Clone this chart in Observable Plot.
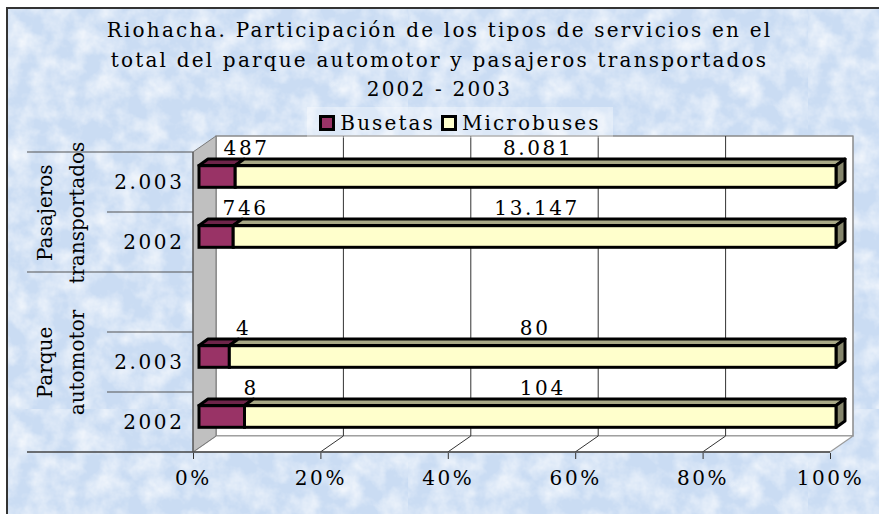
<!DOCTYPE html>
<html>
<head>
<meta charset="utf-8">
<script src="https://cdn.jsdelivr.net/npm/d3@7"></script>
<script src="https://cdn.jsdelivr.net/npm/@observablehq/plot@0.6"></script>
<style>
html, body { margin: 0; padding: 0; background: #fff; }
#chart { position: relative; width: 879px; height: 514px; overflow: hidden; font-family: "DejaVu Serif", serif; }
#bg { position: absolute; left: 6px; top: 7px; width: 900px; height: 530px; border: 2px solid #333;
  background-color: #cadcf3;
  background-image: url("data:image/svg+xml,%3Csvg xmlns='http://www.w3.org/2000/svg' width='400' height='400'%3E%3Cfilter id='n'%3E%3CfeTurbulence type='fractalNoise' baseFrequency='0.045' numOctaves='4' seed='3'/%3E%3CfeColorMatrix values='0 0 0 0 1 0 0 0 0 1 0 0 0 0 1 1.4 0 0 0 -0.5'/%3E%3C/filter%3E%3Crect width='400' height='400' filter='url(%23n)'/%3E%3C/svg%3E");
}
#plot { position: absolute; left: 0; top: 0; }
#title { position: absolute; left: 0; top: 16px; width: 879px; text-align: center; font-size: 20px; line-height: 29.5px; letter-spacing: 2.2px; color: #000; }
#legend { position: absolute; left: 307px; top: 107px; width: 306px; height: 31px; background: rgba(255,255,255,0.35);
  display: flex; align-items: center; justify-content: center; font-size: 20px; letter-spacing: 2.1px; color: #000; }
#legend .item { display: flex; align-items: center; margin: 0 3px; }
#legend .sw { width: 10px; height: 10px; border: 3px solid #000; margin-right: 5px; }
</style>
</head>
<body>
<div id="chart">
  <div id="bg"></div>
  <div id="plot"></div>
  <div id="title">Riohacha. Participación de los tipos de servicios en el<br>total del parque automotor y pasajeros transportados<br>2002 - 2003</div>
  <div id="legend"></div>
</div>
<script>
// ---- data ----
const groups = ["Pasajeros transportados", "Parque automotor"];
const rows = ["Pasajeros|2.003", "Pasajeros|2002", "Parque|", "Parque|2.003", "Parque|2002"];
const series = ["Busetas", "Microbuses"];
const busetas = [487, 746, null, 4, 8];
const microbuses = [8081, 13147, null, 80, 104];
const xTicks = [0, 0.2, 0.4, 0.6, 0.8, 1];
const colors = ["#993366", "#FFFFCC"];
const topColors = ["#6e2449", "#a8a886"];
const sideColor = "#86866c";

// ---- build table ----
const data = [];
rows.forEach((r, i) => {
  if (busetas[i] != null) {
    data.push({row: r, series: series[0], value: busetas[i]});
    data.push({row: r, series: series[1], value: microbuses[i]});
  }
});
const fmt = d3.formatLocale({decimal: ",", thousands: ".", grouping: [3], currency: ["$", ""]}).format(",d");

// ---- layout ----
const W = 879, H = 514, mTop = 151, mBottom = 61, mLeft = 193, mRight = 49;
const band = (H - mTop - mBottom) / rows.length;
const DX = 6, DY = -5.5, BAR_H = 22, TDX = 9, TDY = -6.5, WDX = 23, WDY = -16;
const inset = (band - BAR_H) / 2;

function bwOf(y) { return typeof y.bandwidth === "function" ? y.bandwidth() : y.bandwidth; }
function poly(g, pts, fill, stroke, sw) {
  g.append("polygon").attr("points", pts.map(p => p.join(",")).join(" "))
    .attr("fill", fill).attr("stroke", stroke).attr("stroke-width", sw).attr("stroke-linejoin", "round");
}
function line(g, x1, y1, x2, y2, stroke, sw) {
  g.append("line").attr("x1", x1).attr("y1", y1).attr("x2", x2).attr("y2", y2)
    .attr("stroke", stroke).attr("stroke-width", sw);
}

// walls, floor, gridlines and category lines
const walls = (index, scales) => {
  const {x, y} = scales;
  const b = bwOf(y);
  const X0 = x(0), X1 = x(1), Yt = y(rows[0]), Yb = y(rows[rows.length - 1]) + b;
  const g = d3.create("svg:g");
  poly(g, [[X0 + WDX, Yt + WDY], [X1 + WDX, Yt + WDY], [X1 + WDX, Yb + WDY], [X0 + WDX, Yb + WDY]], "#fff", "#8a8a8a", 1.5);
  poly(g, [[X0, Yb], [X1, Yb], [X1 + WDX, Yb + WDY], [X0 + WDX, Yb + WDY]], "#fff", "#9a9a9a", 1.2);
  poly(g, [[X0, Yt], [X0 + WDX, Yt + WDY], [X0 + WDX, Yb + WDY], [X0, Yb]], "#c0c0c0", "#7a7a7a", 1);
  xTicks.slice(1, -1).forEach(t => {
    line(g, x(t) + WDX, Yt + WDY, x(t) + WDX, Yb + WDY, "#333", 1);
    line(g, x(t), Yb, x(t) + WDX, Yb + WDY, "#333", 1);
  });
  line(g, 27, Yb, X1, Yb, "#444", 1.5);
  line(g, X0, Yt, X0, Yb, "#555", 1.2);
  line(g, 27, Yt, X0, Yt, "#555", 1.2);
  line(g, 27, y(rows[2]), X0, y(rows[2]), "#555", 1.2);
  [rows[1], rows[3], rows[4]].forEach(r => line(g, 107, y(r), X0, y(r), "#555", 1.2));
  return g.node();
};

// bar tops and right end faces
const tops = (index, scales) => {
  const {x, y} = scales;
  const b = bwOf(y);
  const g = d3.create("svg:g");
  rows.forEach((r, i) => {
    if (busetas[i] == null) return;
    const total = busetas[i] + microbuses[i];
    const cuts = [0, busetas[i] / total, 1];
    const yc = y(r) + b / 2 + DY;
    const yT = yc - BAR_H / 2, yB = yc + BAR_H / 2;
    for (let s = 0; s < 2; s++) {
      const a = x(cuts[s]) + DX, c = x(cuts[s + 1]) + DX;
      poly(g, [[a, yT], [c, yT], [c + TDX, yT + TDY], [a + TDX, yT + TDY]], topColors[s], "#000", 3);
    }
    const e = x(1) + DX;
    poly(g, [[e, yT], [e + TDX, yT + TDY], [e + TDX, yB + TDY], [e, yB]], sideColor, "#000", 3);
  });
  return g.node();
};

// group label lines (one text mark per line)
const groupWords = [];
const groupMarks = [];
groups.forEach((gname, gi) => {
  const words = gname.split(" ");
  const anchorRow = gi === 0 ? rows[0] : rows[3];
  const gdy = gi === 0 ? band / 2 : 0;
  words.forEach((w, wi) => {
    groupWords.push(w);
    groupMarks.push(Plot.text([{t: w, row: anchorRow}], {
      y: "row", text: "t", frameAnchor: "left", dx: wi === 0 ? -148 : -116, dy: gdy,
      rotate: -90, textAnchor: "middle"
    }));
  });
});

const chart = Plot.plot({
  width: W, height: H,
  marginTop: mTop, marginBottom: mBottom, marginLeft: mLeft, marginRight: mRight,
  style: "background: transparent; font-family: 'DejaVu Serif', serif; font-size: 20px; letter-spacing: 2.6px; color: #000; overflow: visible;",
  x: {domain: [0, 1]},
  y: {type: "band", domain: rows, padding: 0},
  color: {domain: series, range: colors},
  marks: [
    walls,
    Plot.axisX({ticks: xTicks, tickFormat: d3.format(".0%"), tickSize: 6, tickPadding: 11, label: null, stroke: "#333"}),
    Plot.axisY({tickFormat: d => d.split("|")[1], tickSize: 0, tickPadding: 9, label: null}),
    ...groupMarks,
    Plot.text(data, Plot.stackX({x: "value", y: "row", z: "series", offset: "normalize",
      text: d => d.series === series[0] ? fmt(d.value) : "", dx: 35, dy: -34})),
    Plot.text(data, Plot.stackX({x: "value", y: "row", z: "series", offset: "normalize",
      text: d => d.series === series[1] ? fmt(d.value) : "", dx: 8, dy: -34})),
    tops,
    Plot.barX(data, Plot.stackX({x: "value", y: "row", fill: "series", offset: "normalize",
      stroke: "#000", strokeWidth: 3, insetTop: inset, insetBottom: inset, dx: DX, dy: DY}))
  ]
});
// group labels are set without extra letter spacing
d3.select(chart).selectAll("text").filter(function() { return groupWords.includes(this.textContent); })
  .style("letter-spacing", "0px");
document.getElementById("plot").appendChild(chart);

// legend
const leg = document.getElementById("legend");
series.forEach((s, i) => {
  const it = document.createElement("div");
  it.className = "item";
  const sw = document.createElement("div");
  sw.className = "sw";
  sw.style.background = colors[i];
  const tx = document.createElement("span");
  tx.textContent = s;
  it.appendChild(sw); it.appendChild(tx);
  leg.appendChild(it);
});
</script>
</body>
</html>
